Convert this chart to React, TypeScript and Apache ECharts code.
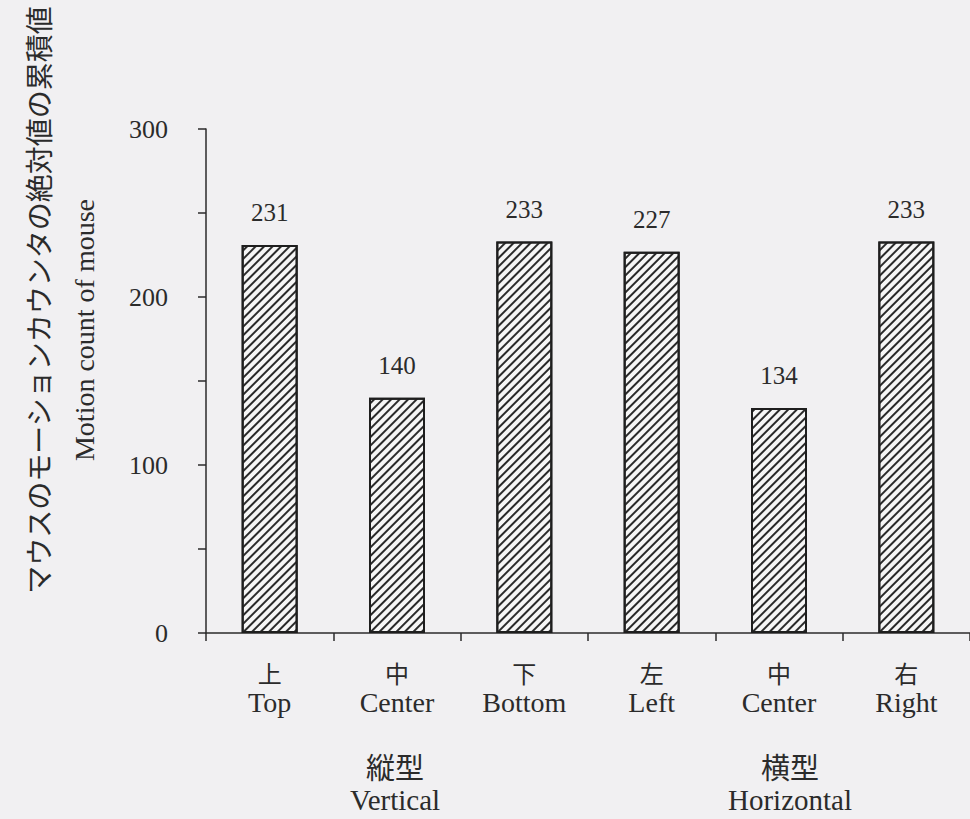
import React, { useEffect, useRef } from "react";
import * as echarts from "echarts";

const categoriesJa = ["上", "中", "下", "左", "中", "右"];
const categoriesEn = ["Top", "Center", "Bottom", "Left", "Center", "Right"];
const values = [231, 140, 233, 227, 134, 233];
const yTickLabels = ["0", "100", "200", "300"];
const groupJa = ["縦型", "横型"];
const groupEn = ["Vertical", "Horizontal"];
const yTitleJa = "マウスのモーションカウンタの絶対値の累積値";
const yTitleEn = "Motion count of mouse";

const INK = "#2b2b2b";
const SERIF = "'Liberation Serif', 'DejaVu Serif', serif";
const CJK = "'Noto Sans CJK JP', sans-serif";

export default function App() {
  const ref = useRef<HTMLDivElement>(null);
  useEffect(() => {
    if (!ref.current) return;
    const chart = echarts.init(ref.current, undefined, { renderer: "svg" });
    const option: any = {
      animation: false,
      backgroundColor: "#f1f0f2",
      grid: { left: 206, top: 129, width: 788, height: 504 },
      xAxis: {
        type: "category",
        data: categoriesEn.map((e, i) => categoriesJa[i] + "|" + e),
        boundaryGap: true,
        axisLine: { show: true, lineStyle: { color: INK, width: 1.5 } },
        axisTick: { show: true, inside: false, length: 8, lineStyle: { color: INK, width: 1.5 } },
        axisLabel: {
          margin: 24,
          interval: 0,
          formatter: (v: string, i: number) => `{c|${categoriesJa[i]}}\n{e|${categoriesEn[i]}}`,
          rich: {
            c: { fontFamily: CJK, fontSize: 24, color: INK, lineHeight: 30, align: "center" },
            e: { fontFamily: SERIF, fontSize: 28, color: INK, lineHeight: 30, align: "center" },
          },
        },
        splitLine: { show: false },
      },
      yAxis: {
        type: "value",
        min: 0,
        max: 300,
        interval: 50,
        axisLine: { show: true, lineStyle: { color: INK, width: 1.5 } },
        axisTick: { show: true, inside: false, length: 8, lineStyle: { color: INK, width: 1.5 } },
        axisLabel: {
          margin: 38,
          fontFamily: SERIF,
          fontSize: 26,
          color: INK,
          formatter: (v: number) => (yTickLabels.includes(String(v)) ? String(v) : ""),
        },
        splitLine: { show: false },
      },
      series: [
        {
          type: "bar",
          data: values,
          barWidth: 56,
          itemStyle: {
            color: "#f6f6f6",
            borderColor: "#1e1e1e",
            borderWidth: 2,
            decal: {
              symbol: "rect",
              symbolSize: 1,
              color: "#2a2a2a",
              dashArrayX: [1, 0],
              dashArrayY: [1.6, 3.2],
              rotation: -Math.PI / 4,
            },
          },
          label: {
            show: true,
            position: "top",
            distance: 20,
            fontFamily: SERIF,
            fontSize: 25,
            color: INK,
          },
        },
      ],
      graphic: [
        {
          type: "text",
          x: 395,
          y: 766,
          style: { text: groupJa[0], font: `29px ${CJK}`, fill: INK, align: "center", verticalAlign: "middle" },
        },
        {
          type: "text",
          x: 395,
          y: 800,
          style: { text: groupEn[0], font: `29px ${SERIF}`, fill: INK, align: "center", verticalAlign: "middle" },
        },
        {
          type: "text",
          x: 790,
          y: 766,
          style: { text: groupJa[1], font: `29px ${CJK}`, fill: INK, align: "center", verticalAlign: "middle" },
        },
        {
          type: "text",
          x: 790,
          y: 800,
          style: { text: groupEn[1], font: `29px ${SERIF}`, fill: INK, align: "center", verticalAlign: "middle" },
        },
        {
          type: "text",
          x: 38,
          y: 300,
          rotation: Math.PI / 2,
          style: { text: yTitleJa, font: `28px ${CJK}`, fill: INK, align: "center", verticalAlign: "middle" },
        },
        {
          type: "text",
          x: 84,
          y: 330,
          rotation: Math.PI / 2,
          style: { text: yTitleEn, font: `28px ${SERIF}`, fill: INK, align: "center", verticalAlign: "middle" },
        },
      ],
    };
    chart.setOption(option);
    return () => chart.dispose();
  }, []);
  return (
    <div
      ref={ref}
      style={{ position: "fixed", left: 0, top: 0, width: 970, height: 819 }}
    />
  );
}
